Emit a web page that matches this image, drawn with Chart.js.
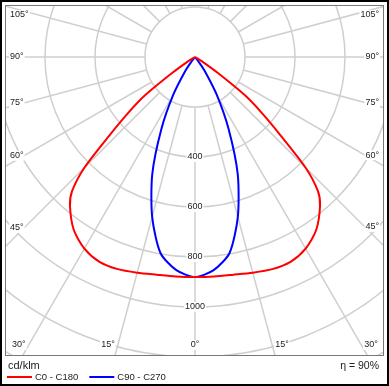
<!DOCTYPE html>
<html lang="en">
<head>
<meta charset="UTF-8" />
<title>Polar intensity diagram</title>
<script src="https://cdn.jsdelivr.net/npm/chart.js"></script>
<style>
  html, body { margin: 0; padding: 0; background: #fff; }
  canvas { display: block; }
</style>
</head>
<body>
<canvas id="polar" width="389" height="386"></canvas>
<script>
// gamma angles (deg from nadir) and intensities in cd/klm
const gammaC0 = [0, 5, 10, 15, 20, 25, 30, 35, 40, 42.5, 45, 47.5, 50, 52.5, 55, 57.5, 60];
const valuesC0 = [880, 881, 884, 893, 903, 904, 885, 845, 778, 728, 625, 465, 352, 252, 112, 38, 0];
const gammaC90 = [0, 5, 10, 15, 20, 25, 30, 35, 37.5, 40];
const valuesC90 = [880, 856, 796, 662, 500, 318, 172, 66, 25, 0];

const seriesNames = ['C0 - C180', 'C90 - C270'];
const seriesColors = ['#ff0000', '#0000ff'];

const ringValues = [200, 400, 600, 800, 1000, 1200, 1400, 1600];
const ringLabels = [400, 600, 800, 1000];
const angleLabels = [0, 15, 30, 45, 60, 75, 90, 105];
const unitText = 'cd/klm';
const efficiencyText = 'η = 90%';

const FONT = '"Liberation Sans", Arial, sans-serif';

// polar -> cartesian, both halves of the plane, closed at the centre
function toPoints(gammas, values) {
    const pts = [];
    for (let i = gammas.length - 1; i >= 0; i--) {
        const r = gammas[i] * Math.PI / 180;
        pts.push({ x: -values[i] * Math.sin(r), y: -values[i] * Math.cos(r) });
    }
    for (let i = 1; i < gammas.length; i++) {
        const r = gammas[i] * Math.PI / 180;
        pts.push({ x: values[i] * Math.sin(r), y: -values[i] * Math.cos(r) });
    }
    return pts;
}

function boxedText(ctx, text, x, y, align) {
    ctx.textAlign = align;
    ctx.textBaseline = 'middle';
    const w = ctx.measureText(text).width;
    let left = x;
    if (align === 'center') left = x - w / 2;
    if (align === 'right') left = x - w;
    ctx.fillStyle = '#fff';
    ctx.fillRect(left - 1, y - 5, w + 2, 10);
    ctx.fillStyle = '#222';
    ctx.fillText(text, x, y);
}

const polarGrid = {
    id: 'polarGrid',
    beforeDatasetsDraw(chart) {
        const { ctx, chartArea: a, scales } = chart;
        const cx = scales.x.getPixelForValue(0);
        const cy = scales.y.getPixelForValue(0);
        const k = scales.x.getPixelForValue(100) - cx;   // px per 100 cd/klm
        const rad = v => v / 100 * k;

        ctx.save();
        ctx.beginPath();
        ctx.rect(a.left, a.top, a.right - a.left, a.bottom - a.top);
        ctx.clip();

        ctx.strokeStyle = '#cfcfcf';
        ctx.lineWidth = 1.5;
        ringValues.forEach(v => {
            ctx.beginPath();
            ctx.arc(cx, cy, rad(v), 0, Math.PI * 2);
            ctx.stroke();
        });
        const r0 = rad(ringValues[0]);
        const r1 = rad(ringValues[ringValues.length - 1]) + 200;
        for (let g = 0; g < 360; g += 15) {
            const t = g * Math.PI / 180;
            const dx = Math.sin(t), dy = Math.cos(t);
            ctx.beginPath();
            ctx.moveTo(cx + dx * r0, cy + dy * r0);
            ctx.lineTo(cx + dx * r1, cy + dy * r1);
            ctx.stroke();
        }

        // ring values on the 0 deg axis
        ctx.font = '9px ' + FONT;
        ringLabels.forEach(v => boxedText(ctx, String(v), cx, cy + rad(v), 'center'));

        // angle labels along the frame
        angleLabels.forEach(g => {
            [-1, 1].forEach(side => {
                if (g === 0 && side === 1) return;
                const t = g * Math.PI / 180;
                const dx = Math.sin(t) * side, dy = Math.cos(t);
                const txt = g + '°';
                if (g <= 30) {
                    const y = a.bottom - 10;
                    const x = cx + dx * (y - cy) / dy;
                    if (g === 0) boxedText(ctx, txt, x, y, 'center');
                    else if (side < 0) boxedText(ctx, txt, x - 3, y, 'right');
                    else boxedText(ctx, txt, x + 3, y, 'left');
                } else {
                    const xs = side < 0 ? a.left + 19 : a.right - 19;
                    let y = cy + dy * (xs - cx) / dx;
                    y = Math.max(y, a.top + 10);
                    if (side < 0) boxedText(ctx, txt, a.left + 5, y, 'left');
                    else boxedText(ctx, txt, a.right - 5, y, 'right');
                }
            });
        });
        ctx.restore();
    },
    afterDraw(chart) {
        const { ctx, chartArea: a, width, height } = chart;
        ctx.save();
        // plot frame
        ctx.strokeStyle = '#777';
        ctx.lineWidth = 1;
        ctx.strokeRect(a.left + 0.5, a.top + 0.5, a.right - a.left - 1, a.bottom - a.top);
        // outer border
        ctx.strokeStyle = '#000';
        ctx.lineWidth = 2;
        ctx.strokeRect(1, 1, width - 2, height - 2);

        ctx.fillStyle = '#222';
        ctx.textBaseline = 'middle';
        ctx.font = '11px ' + FONT;
        ctx.textAlign = 'left';
        ctx.fillText(unitText, 8, a.bottom + 11);
        ctx.font = '10.5px ' + FONT;
        ctx.textAlign = 'right';
        ctx.fillText(efficiencyText, a.right - 5, a.bottom + 11);

        // legend
        ctx.font = '9.5px ' + FONT;
        ctx.textAlign = 'left';
        let x = 7;
        const y = a.bottom + 22;
        chart.data.datasets.forEach(ds => {
            ctx.strokeStyle = ds.borderColor;
            ctx.lineWidth = 2;
            ctx.beginPath();
            ctx.moveTo(x, y);
            ctx.lineTo(x + 25, y);
            ctx.stroke();
            ctx.fillStyle = '#222';
            ctx.fillText(ds.label, x + 28, y);
            x += 28 + ctx.measureText(ds.label).width + 11;
        });
        ctx.restore();
    }
};

new Chart(document.getElementById('polar'), {
    type: 'scatter',
    data: {
        datasets: [
            { label: seriesNames[0], data: toPoints(gammaC0, valuesC0), borderColor: seriesColors[0] },
            { label: seriesNames[1], data: toPoints(gammaC90, valuesC90), borderColor: seriesColors[1] }
        ].map(ds => Object.assign(ds, {
            showLine: true, fill: false, pointRadius: 0, borderWidth: 2, tension: 0.25
        }))
    },
    options: {
        responsive: false,
        animation: false,
        devicePixelRatio: 1,
        layout: { padding: { left: 5, right: 5, top: 5, bottom: 31 } },
        plugins: { legend: { display: false }, tooltip: { enabled: false } },
        scales: {
            x: { type: 'linear', display: false, min: -760, max: 756 },
            y: { type: 'linear', display: false, min: -1192, max: 208 }
        }
    },
    plugins: [polarGrid]
});
</script>
</body>
</html>
